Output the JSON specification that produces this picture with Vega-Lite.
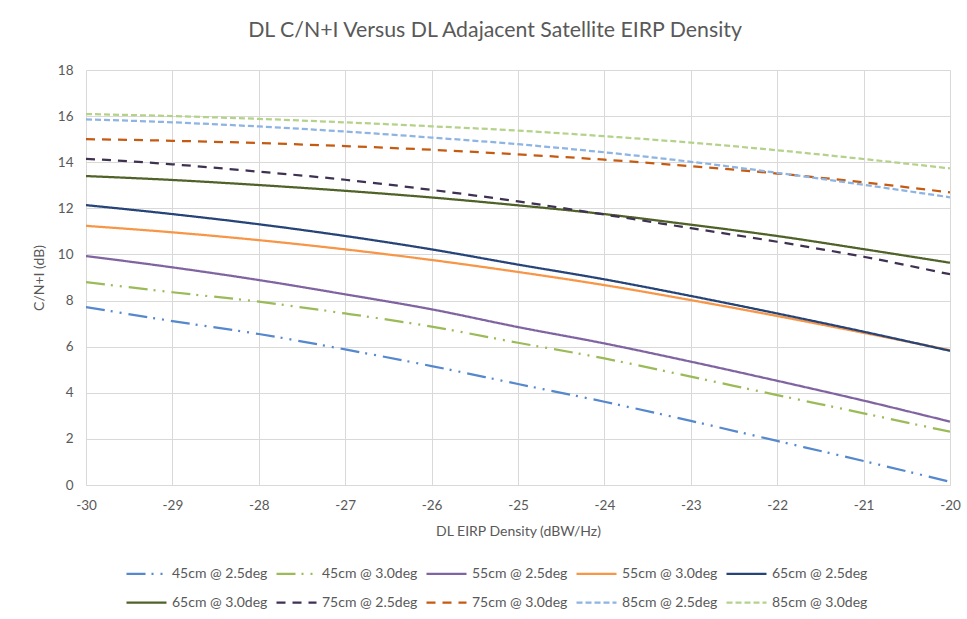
{
  "$schema": "https://vega.github.io/schema/vega-lite/v6.json",
  "width": 864,
  "height": 415,
  "autosize": "none",
  "padding": {"left": 86, "top": 70, "right": 17, "bottom": 134},
  "background": "white",
  "title": {
    "text": "DL C/N+I Versus DL Adajacent Satellite EIRP Density",
    "font": "Lato",
    "fontSize": 21.3,
    "fontWeight": "normal",
    "color": "#595959",
    "anchor": "middle",
    "frame": "group",
    "dx": -23,
    "offset": 22
  },
  "config": {
    "view": {"stroke": null},
    "font": "Lato",
    "axis": {
      "labelFont": "Lato",
      "titleFont": "Lato",
      "labelFontSize": 13.5,
      "titleFontSize": 14,
      "labelColor": "#595959",
      "titleColor": "#595959",
      "titleFontWeight": "normal",
      "gridColor": "#d9d9d9",
      "gridWidth": 1,
      "ticks": false,
      "domain": false,
      "labelFlush": false
    },
    "legend": {
      "labelFont": "Lato",
      "labelFontSize": 14,
      "labelColor": "#595959",
      "symbolType": "stroke",
      "symbolStrokeWidth": 2.25,
      "symbolSize": 1600,
      "labelLimit": 200
    }
  },
  "data": {
    "values": [
      {"x": -30, "y": 7.72, "s": "45cm @ 2.5deg"},
      {"x": -29, "y": 7.11, "s": "45cm @ 2.5deg"},
      {"x": -28, "y": 6.55, "s": "45cm @ 2.5deg"},
      {"x": -27, "y": 5.88, "s": "45cm @ 2.5deg"},
      {"x": -26, "y": 5.16, "s": "45cm @ 2.5deg"},
      {"x": -25, "y": 4.38, "s": "45cm @ 2.5deg"},
      {"x": -24, "y": 3.61, "s": "45cm @ 2.5deg"},
      {"x": -23, "y": 2.78, "s": "45cm @ 2.5deg"},
      {"x": -22, "y": 1.91, "s": "45cm @ 2.5deg"},
      {"x": -21, "y": 1.04, "s": "45cm @ 2.5deg"},
      {"x": -20, "y": 0.14, "s": "45cm @ 2.5deg"},
      {"x": -30, "y": 8.8, "s": "45cm @ 3.0deg"},
      {"x": -29, "y": 8.36, "s": "45cm @ 3.0deg"},
      {"x": -28, "y": 7.95, "s": "45cm @ 3.0deg"},
      {"x": -27, "y": 7.44, "s": "45cm @ 3.0deg"},
      {"x": -26, "y": 6.87, "s": "45cm @ 3.0deg"},
      {"x": -25, "y": 6.17, "s": "45cm @ 3.0deg"},
      {"x": -24, "y": 5.49, "s": "45cm @ 3.0deg"},
      {"x": -23, "y": 4.7, "s": "45cm @ 3.0deg"},
      {"x": -22, "y": 3.9, "s": "45cm @ 3.0deg"},
      {"x": -21, "y": 3.11, "s": "45cm @ 3.0deg"},
      {"x": -20, "y": 2.31, "s": "45cm @ 3.0deg"},
      {"x": -30, "y": 9.93, "s": "55cm @ 2.5deg"},
      {"x": -29, "y": 9.44, "s": "55cm @ 2.5deg"},
      {"x": -28, "y": 8.89, "s": "55cm @ 2.5deg"},
      {"x": -27, "y": 8.27, "s": "55cm @ 2.5deg"},
      {"x": -26, "y": 7.62, "s": "55cm @ 2.5deg"},
      {"x": -25, "y": 6.85, "s": "55cm @ 2.5deg"},
      {"x": -24, "y": 6.14, "s": "55cm @ 2.5deg"},
      {"x": -23, "y": 5.35, "s": "55cm @ 2.5deg"},
      {"x": -22, "y": 4.52, "s": "55cm @ 2.5deg"},
      {"x": -21, "y": 3.66, "s": "55cm @ 2.5deg"},
      {"x": -20, "y": 2.75, "s": "55cm @ 2.5deg"},
      {"x": -30, "y": 11.24, "s": "55cm @ 3.0deg"},
      {"x": -29, "y": 10.96, "s": "55cm @ 3.0deg"},
      {"x": -28, "y": 10.62, "s": "55cm @ 3.0deg"},
      {"x": -27, "y": 10.22, "s": "55cm @ 3.0deg"},
      {"x": -26, "y": 9.76, "s": "55cm @ 3.0deg"},
      {"x": -25, "y": 9.24, "s": "55cm @ 3.0deg"},
      {"x": -24, "y": 8.67, "s": "55cm @ 3.0deg"},
      {"x": -23, "y": 8.02, "s": "55cm @ 3.0deg"},
      {"x": -22, "y": 7.33, "s": "55cm @ 3.0deg"},
      {"x": -21, "y": 6.6, "s": "55cm @ 3.0deg"},
      {"x": -20, "y": 5.85, "s": "55cm @ 3.0deg"},
      {"x": -30, "y": 12.14, "s": "65cm @ 2.5deg"},
      {"x": -29, "y": 11.75, "s": "65cm @ 2.5deg"},
      {"x": -28, "y": 11.31, "s": "65cm @ 2.5deg"},
      {"x": -27, "y": 10.8, "s": "65cm @ 2.5deg"},
      {"x": -26, "y": 10.22, "s": "65cm @ 2.5deg"},
      {"x": -25, "y": 9.56, "s": "65cm @ 2.5deg"},
      {"x": -24, "y": 8.92, "s": "65cm @ 2.5deg"},
      {"x": -23, "y": 8.2, "s": "65cm @ 2.5deg"},
      {"x": -22, "y": 7.44, "s": "65cm @ 2.5deg"},
      {"x": -21, "y": 6.65, "s": "65cm @ 2.5deg"},
      {"x": -20, "y": 5.82, "s": "65cm @ 2.5deg"},
      {"x": -30, "y": 13.4, "s": "65cm @ 3.0deg"},
      {"x": -29, "y": 13.23, "s": "65cm @ 3.0deg"},
      {"x": -28, "y": 13.01, "s": "65cm @ 3.0deg"},
      {"x": -27, "y": 12.76, "s": "65cm @ 3.0deg"},
      {"x": -26, "y": 12.47, "s": "65cm @ 3.0deg"},
      {"x": -25, "y": 12.13, "s": "65cm @ 3.0deg"},
      {"x": -24, "y": 11.75, "s": "65cm @ 3.0deg"},
      {"x": -23, "y": 11.29, "s": "65cm @ 3.0deg"},
      {"x": -22, "y": 10.8, "s": "65cm @ 3.0deg"},
      {"x": -21, "y": 10.23, "s": "65cm @ 3.0deg"},
      {"x": -20, "y": 9.64, "s": "65cm @ 3.0deg"},
      {"x": -30, "y": 14.15, "s": "75cm @ 2.5deg"},
      {"x": -29, "y": 13.91, "s": "75cm @ 2.5deg"},
      {"x": -28, "y": 13.59, "s": "75cm @ 2.5deg"},
      {"x": -27, "y": 13.24, "s": "75cm @ 2.5deg"},
      {"x": -26, "y": 12.8, "s": "75cm @ 2.5deg"},
      {"x": -25, "y": 12.3, "s": "75cm @ 2.5deg"},
      {"x": -24, "y": 11.73, "s": "75cm @ 2.5deg"},
      {"x": -23, "y": 11.14, "s": "75cm @ 2.5deg"},
      {"x": -22, "y": 10.55, "s": "75cm @ 2.5deg"},
      {"x": -21, "y": 9.9, "s": "75cm @ 2.5deg"},
      {"x": -20, "y": 9.14, "s": "75cm @ 2.5deg"},
      {"x": -30, "y": 15.0, "s": "75cm @ 3.0deg"},
      {"x": -29, "y": 14.93, "s": "75cm @ 3.0deg"},
      {"x": -28, "y": 14.83, "s": "75cm @ 3.0deg"},
      {"x": -27, "y": 14.7, "s": "75cm @ 3.0deg"},
      {"x": -26, "y": 14.54, "s": "75cm @ 3.0deg"},
      {"x": -25, "y": 14.34, "s": "75cm @ 3.0deg"},
      {"x": -24, "y": 14.11, "s": "75cm @ 3.0deg"},
      {"x": -23, "y": 13.83, "s": "75cm @ 3.0deg"},
      {"x": -22, "y": 13.51, "s": "75cm @ 3.0deg"},
      {"x": -21, "y": 13.13, "s": "75cm @ 3.0deg"},
      {"x": -20, "y": 12.69, "s": "75cm @ 3.0deg"},
      {"x": -30, "y": 15.86, "s": "85cm @ 2.5deg"},
      {"x": -29, "y": 15.73, "s": "85cm @ 2.5deg"},
      {"x": -28, "y": 15.55, "s": "85cm @ 2.5deg"},
      {"x": -27, "y": 15.33, "s": "85cm @ 2.5deg"},
      {"x": -26, "y": 15.07, "s": "85cm @ 2.5deg"},
      {"x": -25, "y": 14.78, "s": "85cm @ 2.5deg"},
      {"x": -24, "y": 14.43, "s": "85cm @ 2.5deg"},
      {"x": -23, "y": 14.02, "s": "85cm @ 2.5deg"},
      {"x": -22, "y": 13.54, "s": "85cm @ 2.5deg"},
      {"x": -21, "y": 13.02, "s": "85cm @ 2.5deg"},
      {"x": -20, "y": 12.48, "s": "85cm @ 2.5deg"},
      {"x": -30, "y": 16.09, "s": "85cm @ 3.0deg"},
      {"x": -29, "y": 16.0, "s": "85cm @ 3.0deg"},
      {"x": -28, "y": 15.88, "s": "85cm @ 3.0deg"},
      {"x": -27, "y": 15.73, "s": "85cm @ 3.0deg"},
      {"x": -26, "y": 15.56, "s": "85cm @ 3.0deg"},
      {"x": -25, "y": 15.37, "s": "85cm @ 3.0deg"},
      {"x": -24, "y": 15.13, "s": "85cm @ 3.0deg"},
      {"x": -23, "y": 14.85, "s": "85cm @ 3.0deg"},
      {"x": -22, "y": 14.52, "s": "85cm @ 3.0deg"},
      {"x": -21, "y": 14.14, "s": "85cm @ 3.0deg"},
      {"x": -20, "y": 13.73, "s": "85cm @ 3.0deg"}
    ]
  },
  "mark": {"type": "line", "strokeWidth": 2.25, "interpolate": "monotone", "clip": true},
  "encoding": {
    "x": {
      "field": "x",
      "type": "quantitative",
      "scale": {"domain": [-30, -20], "nice": false},
      "axis": {
        "title": "DL EIRP Density (dBW/Hz)",
        "values": [-30, -29, -28, -27, -26, -25, -24, -23, -22, -21, -20],
        "labelExpr": "replace(datum.label, '\u2212', '-')",
        "labelPadding": 13,
        "titlePadding": 13,
        "domain": true,
        "domainColor": "#d9d9d9",
        "domainWidth": 1
      }
    },
    "y": {
      "field": "y",
      "type": "quantitative",
      "scale": {"domain": [0, 18], "nice": false},
      "axis": {
        "title": "C/N+I (dB)",
        "values": [0, 2, 4, 6, 8, 10, 12, 14, 16, 18],
        "labelPadding": 13,
        "titlePadding": 11
      }
    },
    "color": {
      "field": "s",
      "type": "nominal",
      "scale": {
        "domain": ["45cm @ 2.5deg", "45cm @ 3.0deg", "55cm @ 2.5deg", "55cm @ 3.0deg", "65cm @ 2.5deg", "65cm @ 3.0deg", "75cm @ 2.5deg", "75cm @ 3.0deg", "85cm @ 2.5deg", "85cm @ 3.0deg"],
        "range": ["#5588CC", "#9BBB59", "#8064A2", "#F79646", "#264478", "#4F6228", "#3F3151", "#C55A11", "#8DB4E2", "#B5D28B"]
      },
      "legend": {
        "title": null,
        "orient": "none",
        "legendX": 39,
        "legendY": 482,
        "direction": "horizontal",
        "columns": 5,
        "columnPadding": 4,
        "rowPadding": -1,
        "labelOffset": 4
      }
    },
    "strokeDash": {
      "field": "s",
      "type": "nominal",
      "scale": {
        "domain": ["45cm @ 2.5deg", "45cm @ 3.0deg", "55cm @ 2.5deg", "55cm @ 3.0deg", "65cm @ 2.5deg", "65cm @ 3.0deg", "75cm @ 2.5deg", "75cm @ 3.0deg", "85cm @ 2.5deg", "85cm @ 3.0deg"],
        "range": [[19, 6, 2, 7, 2, 7], [19, 6, 2, 7, 2, 7], [1, 0], [1, 0], [1, 0], [1, 0], [9, 7], [9, 7], [6, 3], [6, 3]]
      },
      "legend": {
        "title": null,
        "orient": "none",
        "legendX": 39,
        "legendY": 482,
        "direction": "horizontal",
        "columns": 5,
        "columnPadding": 4,
        "rowPadding": -1,
        "labelOffset": 4
      }
    }
  }
}
